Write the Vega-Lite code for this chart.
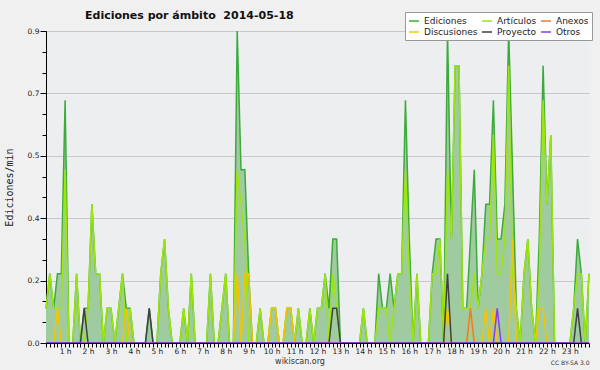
{
"$schema": "https://vega.github.io/schema/vega-lite/v6.json",
"autosize": "none",
"width": 543, "height": 312,
"padding": {"left": 46, "top": 31, "right": 11, "bottom": 27},
"background": "#f0f0f0",
"title": {"text": "Ediciones por ámbito\u00a0 2014-05-18", "anchor": "start", "dx": 39, "dy": 18.5, "font": "DejaVu Sans", "fontSize": 11, "fontWeight": "bold", "color": "#111", "baseline": "alphabetic", "offset": 0, "frame": "group"},
"config": {
  "view": {"stroke": null, "fill": "#edeef0"},
  "axis": {"labelFont": "DejaVu Sans", "labelColor": "#222", "domainColor": "#000", "tickColor": "#000", "domainWidth": 1, "tickWidth": 1, "titleFont": "DejaVu Sans", "titleColor": "#333", "titleFontWeight": "normal"},
  "legend": {"orient": "none", "legendX": 359, "legendY": -19, "direction": "horizontal", "columns": 3, "symbolType": "stroke", "symbolSize": 100, "symbolStrokeWidth": 1.5, "labelFontSize": 9, "labelFont": "DejaVu Sans", "labelColor": "#222", "fillColor": "#ffffff", "strokeColor": "#999999", "padding": 3, "rowPadding": 0, "columnPadding": 1, "labelOffset": 4}
},
"data": {"values": [
{"m":10,"Ediciones":0.1,"Artículos":0.1,"Discusiones":0,"Anexos":0,"Proyecto":0,"Otros":0},
{"m":20,"Ediciones":0.2,"Artículos":0.2,"Discusiones":0,"Anexos":0,"Proyecto":0,"Otros":0},
{"m":30,"Ediciones":0.1,"Artículos":0.1,"Discusiones":0,"Anexos":0,"Proyecto":0,"Otros":0},
{"m":40,"Ediciones":0.2,"Artículos":0.1,"Discusiones":0.1,"Anexos":0,"Proyecto":0,"Otros":0},
{"m":50,"Ediciones":0.2,"Artículos":0.1,"Discusiones":0,"Anexos":0,"Proyecto":0,"Otros":0},
{"m":60,"Ediciones":0.7,"Artículos":0.5,"Discusiones":0,"Anexos":0,"Proyecto":0,"Otros":0},
{"m":70,"Ediciones":0,"Artículos":0,"Discusiones":0,"Anexos":0,"Proyecto":0,"Otros":0},
{"m":80,"Ediciones":0,"Artículos":0,"Discusiones":0,"Anexos":0,"Proyecto":0,"Otros":0},
{"m":90,"Ediciones":0.2,"Artículos":0.2,"Discusiones":0,"Anexos":0,"Proyecto":0,"Otros":0},
{"m":100,"Ediciones":0,"Artículos":0,"Discusiones":0,"Anexos":0,"Proyecto":0,"Otros":0},
{"m":110,"Ediciones":0.1,"Artículos":0,"Discusiones":0,"Anexos":0,"Proyecto":0.1,"Otros":0},
{"m":120,"Ediciones":0.1,"Artículos":0.1,"Discusiones":0,"Anexos":0,"Proyecto":0,"Otros":0},
{"m":130,"Ediciones":0.4,"Artículos":0.4,"Discusiones":0,"Anexos":0,"Proyecto":0,"Otros":0},
{"m":140,"Ediciones":0.2,"Artículos":0.2,"Discusiones":0,"Anexos":0,"Proyecto":0,"Otros":0},
{"m":150,"Ediciones":0.2,"Artículos":0.2,"Discusiones":0,"Anexos":0,"Proyecto":0,"Otros":0},
{"m":160,"Ediciones":0,"Artículos":0,"Discusiones":0,"Anexos":0,"Proyecto":0,"Otros":0},
{"m":170,"Ediciones":0.1,"Artículos":0.1,"Discusiones":0,"Anexos":0,"Proyecto":0,"Otros":0},
{"m":180,"Ediciones":0.1,"Artículos":0.1,"Discusiones":0,"Anexos":0,"Proyecto":0,"Otros":0},
{"m":190,"Ediciones":0,"Artículos":0,"Discusiones":0,"Anexos":0,"Proyecto":0,"Otros":0},
{"m":200,"Ediciones":0.1,"Artículos":0.1,"Discusiones":0,"Anexos":0,"Proyecto":0,"Otros":0},
{"m":210,"Ediciones":0.2,"Artículos":0.2,"Discusiones":0,"Anexos":0,"Proyecto":0,"Otros":0},
{"m":220,"Ediciones":0.1,"Artículos":0,"Discusiones":0.1,"Anexos":0,"Proyecto":0,"Otros":0},
{"m":230,"Ediciones":0.1,"Artículos":0.1,"Discusiones":0,"Anexos":0,"Proyecto":0,"Otros":0},
{"m":240,"Ediciones":0,"Artículos":0,"Discusiones":0,"Anexos":0,"Proyecto":0,"Otros":0},
{"m":250,"Ediciones":0,"Artículos":0,"Discusiones":0,"Anexos":0,"Proyecto":0,"Otros":0},
{"m":260,"Ediciones":0,"Artículos":0,"Discusiones":0,"Anexos":0,"Proyecto":0,"Otros":0},
{"m":270,"Ediciones":0,"Artículos":0,"Discusiones":0,"Anexos":0,"Proyecto":0,"Otros":0},
{"m":280,"Ediciones":0.1,"Artículos":0,"Discusiones":0,"Anexos":0,"Proyecto":0.1,"Otros":0},
{"m":290,"Ediciones":0,"Artículos":0,"Discusiones":0,"Anexos":0,"Proyecto":0,"Otros":0},
{"m":300,"Ediciones":0,"Artículos":0,"Discusiones":0,"Anexos":0,"Proyecto":0,"Otros":0},
{"m":310,"Ediciones":0.2,"Artículos":0.2,"Discusiones":0,"Anexos":0,"Proyecto":0,"Otros":0},
{"m":320,"Ediciones":0.3,"Artículos":0.3,"Discusiones":0,"Anexos":0,"Proyecto":0,"Otros":0},
{"m":330,"Ediciones":0.1,"Artículos":0.1,"Discusiones":0,"Anexos":0,"Proyecto":0,"Otros":0},
{"m":340,"Ediciones":0,"Artículos":0,"Discusiones":0,"Anexos":0,"Proyecto":0,"Otros":0},
{"m":350,"Ediciones":0,"Artículos":0,"Discusiones":0,"Anexos":0,"Proyecto":0,"Otros":0},
{"m":360,"Ediciones":0,"Artículos":0,"Discusiones":0,"Anexos":0,"Proyecto":0,"Otros":0},
{"m":370,"Ediciones":0.1,"Artículos":0.1,"Discusiones":0,"Anexos":0,"Proyecto":0,"Otros":0},
{"m":380,"Ediciones":0,"Artículos":0,"Discusiones":0,"Anexos":0,"Proyecto":0,"Otros":0},
{"m":390,"Ediciones":0.2,"Artículos":0.2,"Discusiones":0,"Anexos":0,"Proyecto":0,"Otros":0},
{"m":400,"Ediciones":0,"Artículos":0,"Discusiones":0,"Anexos":0,"Proyecto":0,"Otros":0},
{"m":410,"Ediciones":0,"Artículos":0,"Discusiones":0,"Anexos":0,"Proyecto":0,"Otros":0},
{"m":420,"Ediciones":0,"Artículos":0,"Discusiones":0,"Anexos":0,"Proyecto":0,"Otros":0},
{"m":430,"Ediciones":0,"Artículos":0,"Discusiones":0,"Anexos":0,"Proyecto":0,"Otros":0},
{"m":440,"Ediciones":0.2,"Artículos":0.2,"Discusiones":0,"Anexos":0,"Proyecto":0,"Otros":0},
{"m":450,"Ediciones":0,"Artículos":0,"Discusiones":0,"Anexos":0,"Proyecto":0,"Otros":0},
{"m":460,"Ediciones":0,"Artículos":0,"Discusiones":0,"Anexos":0,"Proyecto":0,"Otros":0},
{"m":470,"Ediciones":0.1,"Artículos":0.1,"Discusiones":0,"Anexos":0,"Proyecto":0,"Otros":0},
{"m":480,"Ediciones":0.2,"Artículos":0.2,"Discusiones":0,"Anexos":0,"Proyecto":0,"Otros":0},
{"m":490,"Ediciones":0,"Artículos":0,"Discusiones":0,"Anexos":0,"Proyecto":0,"Otros":0},
{"m":500,"Ediciones":0,"Artículos":0,"Discusiones":0,"Anexos":0,"Proyecto":0,"Otros":0},
{"m":510,"Ediciones":0.9,"Artículos":0.5,"Discusiones":0.2,"Anexos":0,"Proyecto":0,"Otros":0},
{"m":520,"Ediciones":0.5,"Artículos":0.4,"Discusiones":0,"Anexos":0,"Proyecto":0,"Otros":0},
{"m":530,"Ediciones":0.5,"Artículos":0.3,"Discusiones":0.2,"Anexos":0,"Proyecto":0,"Otros":0},
{"m":540,"Ediciones":0.2,"Artículos":0,"Discusiones":0.2,"Anexos":0,"Proyecto":0,"Otros":0},
{"m":550,"Ediciones":0,"Artículos":0,"Discusiones":0,"Anexos":0,"Proyecto":0,"Otros":0},
{"m":560,"Ediciones":0,"Artículos":0,"Discusiones":0,"Anexos":0,"Proyecto":0,"Otros":0},
{"m":570,"Ediciones":0.1,"Artículos":0.1,"Discusiones":0,"Anexos":0,"Proyecto":0,"Otros":0},
{"m":580,"Ediciones":0,"Artículos":0,"Discusiones":0,"Anexos":0,"Proyecto":0,"Otros":0},
{"m":590,"Ediciones":0,"Artículos":0,"Discusiones":0,"Anexos":0,"Proyecto":0,"Otros":0},
{"m":600,"Ediciones":0.1,"Artículos":0.1,"Discusiones":0.1,"Anexos":0,"Proyecto":0,"Otros":0},
{"m":610,"Ediciones":0.1,"Artículos":0.1,"Discusiones":0.1,"Anexos":0,"Proyecto":0,"Otros":0},
{"m":620,"Ediciones":0,"Artículos":0,"Discusiones":0,"Anexos":0,"Proyecto":0,"Otros":0},
{"m":630,"Ediciones":0,"Artículos":0,"Discusiones":0,"Anexos":0,"Proyecto":0,"Otros":0},
{"m":640,"Ediciones":0.1,"Artículos":0.1,"Discusiones":0.1,"Anexos":0,"Proyecto":0,"Otros":0},
{"m":650,"Ediciones":0.1,"Artículos":0.1,"Discusiones":0.1,"Anexos":0,"Proyecto":0,"Otros":0},
{"m":660,"Ediciones":0,"Artículos":0,"Discusiones":0,"Anexos":0,"Proyecto":0,"Otros":0},
{"m":670,"Ediciones":0.1,"Artículos":0.1,"Discusiones":0,"Anexos":0,"Proyecto":0,"Otros":0},
{"m":680,"Ediciones":0,"Artículos":0,"Discusiones":0,"Anexos":0,"Proyecto":0,"Otros":0},
{"m":690,"Ediciones":0,"Artículos":0,"Discusiones":0,"Anexos":0,"Proyecto":0,"Otros":0},
{"m":700,"Ediciones":0.1,"Artículos":0.1,"Discusiones":0,"Anexos":0,"Proyecto":0,"Otros":0},
{"m":710,"Ediciones":0,"Artículos":0,"Discusiones":0,"Anexos":0,"Proyecto":0,"Otros":0},
{"m":720,"Ediciones":0.1,"Artículos":0.1,"Discusiones":0,"Anexos":0,"Proyecto":0,"Otros":0},
{"m":730,"Ediciones":0.1,"Artículos":0.1,"Discusiones":0,"Anexos":0,"Proyecto":0,"Otros":0},
{"m":740,"Ediciones":0.2,"Artículos":0.2,"Discusiones":0,"Anexos":0,"Proyecto":0,"Otros":0},
{"m":750,"Ediciones":0.1,"Artículos":0,"Discusiones":0,"Anexos":0,"Proyecto":0,"Otros":0},
{"m":760,"Ediciones":0.3,"Artículos":0.2,"Discusiones":0,"Anexos":0,"Proyecto":0.1,"Otros":0},
{"m":770,"Ediciones":0.3,"Artículos":0.1,"Discusiones":0,"Anexos":0,"Proyecto":0.1,"Otros":0},
{"m":780,"Ediciones":0,"Artículos":0,"Discusiones":0,"Anexos":0,"Proyecto":0,"Otros":0},
{"m":790,"Ediciones":0,"Artículos":0,"Discusiones":0,"Anexos":0,"Proyecto":0,"Otros":0},
{"m":800,"Ediciones":0,"Artículos":0,"Discusiones":0,"Anexos":0,"Proyecto":0,"Otros":0},
{"m":810,"Ediciones":0,"Artículos":0,"Discusiones":0,"Anexos":0,"Proyecto":0,"Otros":0},
{"m":820,"Ediciones":0,"Artículos":0,"Discusiones":0,"Anexos":0,"Proyecto":0,"Otros":0},
{"m":830,"Ediciones":0,"Artículos":0,"Discusiones":0,"Anexos":0,"Proyecto":0,"Otros":0},
{"m":840,"Ediciones":0.1,"Artículos":0.1,"Discusiones":0,"Anexos":0,"Proyecto":0,"Otros":0},
{"m":850,"Ediciones":0,"Artículos":0,"Discusiones":0,"Anexos":0,"Proyecto":0,"Otros":0},
{"m":860,"Ediciones":0,"Artículos":0,"Discusiones":0,"Anexos":0,"Proyecto":0,"Otros":0},
{"m":870,"Ediciones":0,"Artículos":0,"Discusiones":0,"Anexos":0,"Proyecto":0,"Otros":0},
{"m":880,"Ediciones":0.2,"Artículos":0.1,"Discusiones":0,"Anexos":0,"Proyecto":0,"Otros":0},
{"m":890,"Ediciones":0.1,"Artículos":0.1,"Discusiones":0,"Anexos":0,"Proyecto":0,"Otros":0},
{"m":900,"Ediciones":0.1,"Artículos":0.1,"Discusiones":0,"Anexos":0,"Proyecto":0,"Otros":0},
{"m":910,"Ediciones":0.2,"Artículos":0,"Discusiones":0,"Anexos":0,"Proyecto":0,"Otros":0},
{"m":920,"Ediciones":0.1,"Artículos":0.1,"Discusiones":0,"Anexos":0,"Proyecto":0,"Otros":0},
{"m":930,"Ediciones":0.2,"Artículos":0.2,"Discusiones":0,"Anexos":0,"Proyecto":0,"Otros":0},
{"m":940,"Ediciones":0.2,"Artículos":0.2,"Discusiones":0,"Anexos":0,"Proyecto":0,"Otros":0},
{"m":950,"Ediciones":0.7,"Artículos":0.5,"Discusiones":0,"Anexos":0,"Proyecto":0,"Otros":0},
{"m":960,"Ediciones":0.3,"Artículos":0.2,"Discusiones":0,"Anexos":0,"Proyecto":0,"Otros":0},
{"m":970,"Ediciones":0,"Artículos":0,"Discusiones":0,"Anexos":0,"Proyecto":0,"Otros":0},
{"m":980,"Ediciones":0.2,"Artículos":0.2,"Discusiones":0,"Anexos":0,"Proyecto":0,"Otros":0},
{"m":990,"Ediciones":0,"Artículos":0,"Discusiones":0,"Anexos":0,"Proyecto":0,"Otros":0},
{"m":1000,"Ediciones":0,"Artículos":0,"Discusiones":0,"Anexos":0,"Proyecto":0,"Otros":0},
{"m":1010,"Ediciones":0,"Artículos":0,"Discusiones":0,"Anexos":0,"Proyecto":0,"Otros":0},
{"m":1020,"Ediciones":0.2,"Artículos":0.2,"Discusiones":0,"Anexos":0,"Proyecto":0,"Otros":0},
{"m":1030,"Ediciones":0.3,"Artículos":0.2,"Discusiones":0,"Anexos":0,"Proyecto":0,"Otros":0},
{"m":1040,"Ediciones":0.3,"Artículos":0.3,"Discusiones":0,"Anexos":0,"Proyecto":0,"Otros":0},
{"m":1050,"Ediciones":0,"Artículos":0,"Discusiones":0,"Anexos":0,"Proyecto":0,"Otros":0},
{"m":1060,"Ediciones":0.9,"Artículos":0.5,"Discusiones":0.1,"Anexos":0,"Proyecto":0.2,"Otros":0},
{"m":1070,"Ediciones":0.3,"Artículos":0.3,"Discusiones":0,"Anexos":0,"Proyecto":0,"Otros":0},
{"m":1080,"Ediciones":0.8,"Artículos":0.8,"Discusiones":0,"Anexos":0,"Proyecto":0,"Otros":0},
{"m":1090,"Ediciones":0.8,"Artículos":0.8,"Discusiones":0,"Anexos":0,"Proyecto":0,"Otros":0},
{"m":1100,"Ediciones":0.1,"Artículos":0.1,"Discusiones":0,"Anexos":0,"Proyecto":0,"Otros":0},
{"m":1110,"Ediciones":0.1,"Artículos":0.1,"Discusiones":0,"Anexos":0,"Proyecto":0,"Otros":0},
{"m":1120,"Ediciones":0.3,"Artículos":0.1,"Discusiones":0.1,"Anexos":0.1,"Proyecto":0,"Otros":0},
{"m":1130,"Ediciones":0.5,"Artículos":0.2,"Discusiones":0,"Anexos":0,"Proyecto":0,"Otros":0},
{"m":1140,"Ediciones":0.1,"Artículos":0.1,"Discusiones":0,"Anexos":0,"Proyecto":0,"Otros":0},
{"m":1150,"Ediciones":0.2,"Artículos":0.2,"Discusiones":0,"Anexos":0,"Proyecto":0,"Otros":0},
{"m":1160,"Ediciones":0.4,"Artículos":0.3,"Discusiones":0.1,"Anexos":0,"Proyecto":0,"Otros":0},
{"m":1170,"Ediciones":0.4,"Artículos":0.3,"Discusiones":0,"Anexos":0,"Proyecto":0,"Otros":0},
{"m":1180,"Ediciones":0.7,"Artículos":0.6,"Discusiones":0.1,"Anexos":0,"Proyecto":0,"Otros":0},
{"m":1190,"Ediciones":0.3,"Artículos":0.2,"Discusiones":0,"Anexos":0,"Proyecto":0,"Otros":0.1},
{"m":1200,"Ediciones":0.3,"Artículos":0.2,"Discusiones":0,"Anexos":0,"Proyecto":0,"Otros":0},
{"m":1210,"Ediciones":0.4,"Artículos":0.3,"Discusiones":0,"Anexos":0,"Proyecto":0,"Otros":0},
{"m":1220,"Ediciones":0.9,"Artículos":0.8,"Discusiones":0,"Anexos":0,"Proyecto":0,"Otros":0},
{"m":1230,"Ediciones":0.5,"Artículos":0.2,"Discusiones":0.3,"Anexos":0,"Proyecto":0,"Otros":0},
{"m":1240,"Ediciones":0.1,"Artículos":0.1,"Discusiones":0,"Anexos":0,"Proyecto":0,"Otros":0},
{"m":1250,"Ediciones":0,"Artículos":0,"Discusiones":0,"Anexos":0,"Proyecto":0,"Otros":0},
{"m":1260,"Ediciones":0.2,"Artículos":0.2,"Discusiones":0,"Anexos":0,"Proyecto":0,"Otros":0},
{"m":1270,"Ediciones":0.3,"Artículos":0.3,"Discusiones":0,"Anexos":0,"Proyecto":0,"Otros":0},
{"m":1280,"Ediciones":0.1,"Artículos":0.1,"Discusiones":0,"Anexos":0,"Proyecto":0,"Otros":0},
{"m":1290,"Ediciones":0,"Artículos":0,"Discusiones":0,"Anexos":0,"Proyecto":0,"Otros":0},
{"m":1300,"Ediciones":0.3,"Artículos":0.2,"Discusiones":0.1,"Anexos":0,"Proyecto":0,"Otros":0},
{"m":1310,"Ediciones":0.8,"Artículos":0.7,"Discusiones":0.1,"Anexos":0,"Proyecto":0,"Otros":0},
{"m":1320,"Ediciones":0.4,"Artículos":0.4,"Discusiones":0,"Anexos":0,"Proyecto":0,"Otros":0},
{"m":1330,"Ediciones":0.6,"Artículos":0.6,"Discusiones":0,"Anexos":0,"Proyecto":0,"Otros":0},
{"m":1340,"Ediciones":0,"Artículos":0,"Discusiones":0,"Anexos":0,"Proyecto":0,"Otros":0},
{"m":1350,"Ediciones":0,"Artículos":0,"Discusiones":0,"Anexos":0,"Proyecto":0,"Otros":0},
{"m":1360,"Ediciones":0,"Artículos":0,"Discusiones":0,"Anexos":0,"Proyecto":0,"Otros":0},
{"m":1370,"Ediciones":0,"Artículos":0,"Discusiones":0,"Anexos":0,"Proyecto":0,"Otros":0},
{"m":1380,"Ediciones":0,"Artículos":0,"Discusiones":0,"Anexos":0,"Proyecto":0,"Otros":0},
{"m":1390,"Ediciones":0.1,"Artículos":0.1,"Discusiones":0,"Anexos":0,"Proyecto":0,"Otros":0},
{"m":1400,"Ediciones":0.3,"Artículos":0.2,"Discusiones":0,"Anexos":0,"Proyecto":0.1,"Otros":0},
{"m":1410,"Ediciones":0.2,"Artículos":0.2,"Discusiones":0,"Anexos":0,"Proyecto":0,"Otros":0},
{"m":1420,"Ediciones":0,"Artículos":0,"Discusiones":0,"Anexos":0,"Proyecto":0,"Otros":0},
{"m":1430,"Ediciones":0.2,"Artículos":0.2,"Discusiones":0,"Anexos":0,"Proyecto":0,"Otros":0}
]},
"layer": [
  {
    "mark": {"type": "area", "color": "#a0cba0", "opacity": 1},
    "encoding": {
      "x": {"field": "m", "type": "quantitative", "scale": {"domain": [10, 1430], "nice": false, "zero": false},
        "axis": {"values": [10,20,30,40,50,60,70,80,90,100,110,120,130,140,150,160,170,180,190,200,210,220,230,240,250,260,270,280,290,300,310,320,330,340,350,360,370,380,390,400,410,420,430,440,450,460,470,480,490,500,510,520,530,540,550,560,570,580,590,600,610,620,630,640,650,660,670,680,690,700,710,720,730,740,750,760,770,780,790,800,810,820,830,840,850,860,870,880,890,900,910,920,930,940,950,960,970,980,990,1000,1010,1020,1030,1040,1050,1060,1070,1080,1090,1100,1110,1120,1130,1140,1150,1160,1170,1180,1190,1200,1210,1220,1230,1240,1250,1260,1270,1280,1290,1300,1310,1320,1330,1340,1350,1360,1370,1380,1390,1400,1410,1420,1430],
          "labelExpr": "datum.value % 60 === 0 ? (datum.value / 60) + ' h' : ''", "labelOverlap": false, "labelFlush": false, "grid": false, "tickSize": 4, "labelFontSize": 7.5, "labelPadding": 0, "labelBaseline": "top", "zindex": 1,
          "title": "wikiscan.org", "titleFontSize": 8, "titleX": 253.5, "titleY": 20, "titleBaseline": "alphabetic", "titleAlign": "center", "titleAnchor": null}},
      "y": {"field": "Ediciones", "type": "quantitative", "scale": {"domain": [0, 0.9], "nice": false, "zero": true},
        "axis": {"values": [0, 0.18, 0.36, 0.54, 0.72, 0.9], "format": ".1f", "grid": true, "gridColor": "#c8c8c8", "gridWidth": 1, "tickSize": 6, "labelFontSize": 7.5, "labelPadding": 1, "title": "Ediciones/min", "titleFont": "DejaVu Sans Mono", "titleFontSize": 10, "titlePadding": 13, "titleColor": "#222"}}
    }
  },
  {
    "transform": [{"fold": ["Ediciones", "Artículos", "Discusiones", "Anexos", "Proyecto", "Otros"], "as": ["serie", "v"]}, {"filter": "datum.serie === 'Ediciones'"}],
    "mark": {"type": "line", "strokeWidth": 1.5},
    "encoding": {
      "x": {"field": "m", "type": "quantitative", "axis": {"orient": "bottom", "title": "CC BY-SA 3.0", "labels": false, "ticks": false, "domain": false, "grid": false, "titleX": 543, "titleY": 21, "titleAlign": "right", "titleAnchor": null, "titleBaseline": "alphabetic", "titleFontSize": 6, "titleColor": "#333"}},
      "y": {"field": "v", "type": "quantitative", "axis": {"orient": "left", "values": [0,0.06,0.12,0.18,0.24,0.3,0.36,0.42,0.48,0.54,0.6,0.66,0.72,0.78,0.84,0.9], "labels": false, "domain": false, "grid": false, "tickSize": 4, "title": null}},
      "color": {"field": "serie", "type": "nominal", "scale": {"domain": ["Ediciones", "Artículos", "Anexos", "Discusiones", "Proyecto", "Otros"], "range": ["#3cab3c", "#9de60a", "#f07830", "#f5c400", "#404040", "#8a3ee8"]}, "legend": {"title": null}}
    }
  },
  {
    "transform": [{"fold": ["Ediciones", "Artículos", "Discusiones", "Anexos", "Proyecto", "Otros"], "as": ["serie", "v"]}, {"filter": "datum.serie !== 'Ediciones'"}],
    "mark": {"type": "line", "strokeWidth": 1.5},
    "encoding": {
      "x": {"field": "m", "type": "quantitative", "axis": null},
      "y": {"field": "v", "type": "quantitative", "axis": null},
      "color": {"field": "serie", "type": "nominal", "scale": {"domain": ["Ediciones", "Artículos", "Anexos", "Discusiones", "Proyecto", "Otros"], "range": ["#3cab3c", "#9de60a", "#f07830", "#f5c400", "#404040", "#8a3ee8"]}, "legend": {"title": null}}
    }
  }
],
"resolve": {"axis": {"x": "independent", "y": "independent"}}
}
